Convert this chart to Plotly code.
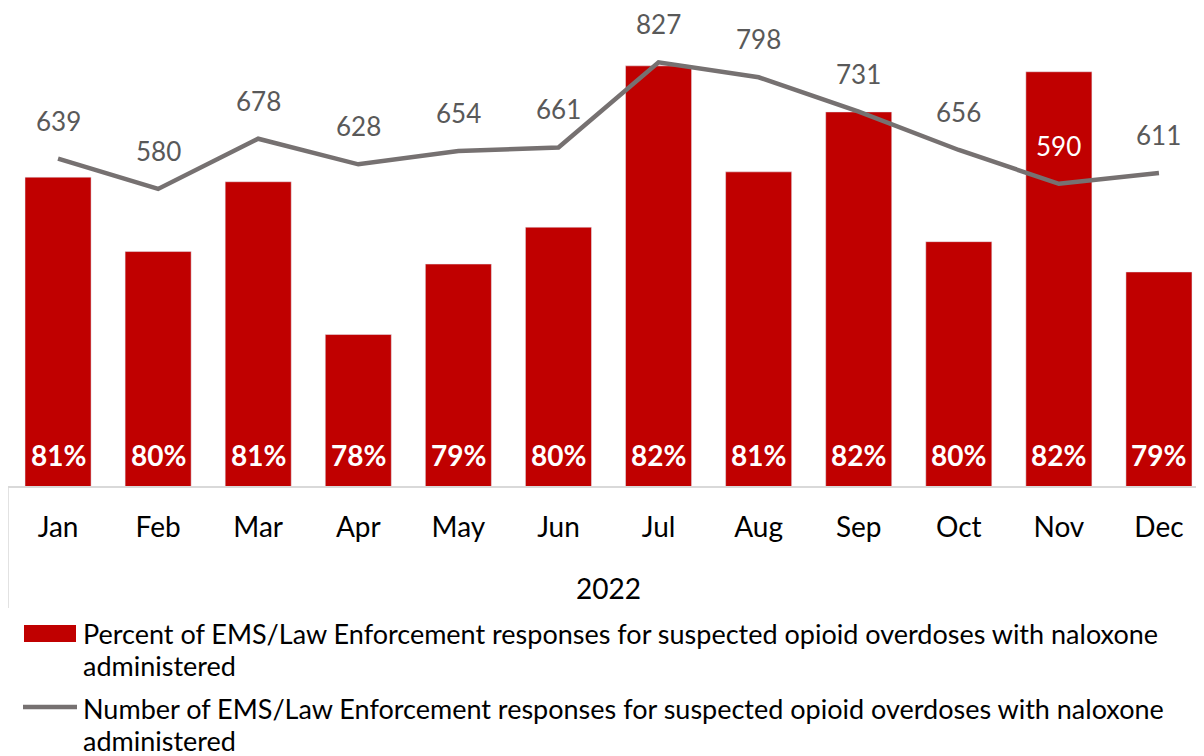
import plotly.graph_objects as go

months = ["Jan", "Feb", "Mar", "Apr", "May", "Jun", "Jul", "Aug", "Sep", "Oct", "Nov", "Dec"]
pct_naloxone = [80.69, 79.56, 80.62, 78.30, 79.37, 79.93, 82.38, 80.77, 81.68, 79.71, 82.29, 79.25]
num_naloxone = [639, 580, 678, 628, 654, 661, 827, 798, 731, 656, 590, 611]
year_label = "2022"
bar_name = "Percent of EMS/Law Enforcement responses for suspected opioid overdoses with naloxone<br>administered"
line_name = "Number of EMS/Law Enforcement responses for suspected opioid overdoses with naloxone<br>administered"

FONT = "Lato"
RED = "#C00000"
GREY_LINE = "#767171"
GREY_TXT = "#595959"

OFF = 8  # browser body margin
W, H = 1204 - OFF, 756 - OFF
ML, MR, MT, MB = 8 - OFF, 0, 25 - OFF, 270
PW = W - ML - MR
PH = H - MT - MB
def px_x(x):
    return (x - OFF - ML) / PW
def px_y(y):
    return (H - MB - (y - OFF)) / PH

fig = go.Figure()
fig.add_trace(go.Bar(
    x=months, y=pct_naloxone, marker_color=RED, width=0.66,
    name=bar_name, yaxis="y", showlegend=False, hoverinfo="skip",
))
fig.add_trace(go.Scatter(
    x=months, y=num_naloxone, mode="lines", line=dict(color=GREY_LINE, width=4.5),
    name=line_name, yaxis="y2", showlegend=False, cliponaxis=False, hoverinfo="skip",
))

annotations = []
for m, v in zip(months, pct_naloxone):
    annotations.append(dict(
        x=m, y=76, xref="x", yref="y", text=f"{round(v)}%", showarrow=False,
        yanchor="middle", yshift=31,
        font=dict(family=FONT, size=28, color="white", weight="bold"),
    ))
for m, v in zip(months, num_naloxone):
    annotations.append(dict(
        x=m, y=v, xref="x", yref="y2", text=str(v), showarrow=False,
        yanchor="middle", yshift=38,
        font=dict(family=FONT, size=26, color="white" if m == "Nov" else GREY_TXT),
    ))
annotations.append(dict(
    x=px_x(608), y=px_y(588), xref="paper", yref="paper", text=year_label,
    showarrow=False, xanchor="center", yanchor="middle",
    font=dict(family=FONT, size=28, color="black"),
))
for ymid, name in [(633, bar_name), (708, line_name)]:
    for k, line in enumerate(name.split("<br>")):
        annotations.append(dict(
            x=px_x(81), y=px_y(ymid + 33 * k - (1 if k else 0)), xref="paper", yref="paper",
            text=line, showarrow=False, xanchor="left", yanchor="middle", align="left",
            font=dict(family=FONT, size=27, color="black"),
        ))

shapes = [
    dict(type="line", xref="paper", yref="paper", x0=px_x(8), x1=px_x(8), y0=0, y1=px_y(608),
         line=dict(color="#D9D9D9", width=1.5)),
    dict(type="rect", xref="paper", yref="paper", x0=px_x(24), x1=px_x(76),
         y0=px_y(642), y1=px_y(625), fillcolor=RED, line=dict(width=0)),
    dict(type="line", xref="paper", yref="paper", x0=px_x(23), x1=px_x(77),
         y0=px_y(707), y1=px_y(707), line=dict(color=GREY_LINE, width=4.5)),
]

fig.update_layout(
    width=W, height=H, margin=dict(l=ML, r=MR, t=MT, b=MB, pad=0),
    paper_bgcolor="white", plot_bgcolor="white",
    font=dict(family=FONT, color="black"),
    xaxis=dict(range=[-0.5, 11.45], showline=True, linecolor="#D9D9D9", linewidth=1.5,
               showgrid=False, zeroline=False, ticks="outside", ticklen=16,
               tickcolor="rgba(0,0,0,0)", tickfont=dict(family=FONT, size=28, color="black")),
    yaxis=dict(range=[76, 83], visible=False, showgrid=False),
    yaxis2=dict(range=[0, 900], visible=False, overlaying="y", showgrid=False),
    annotations=annotations, shapes=shapes,
)
fig.write_html("out.html")
